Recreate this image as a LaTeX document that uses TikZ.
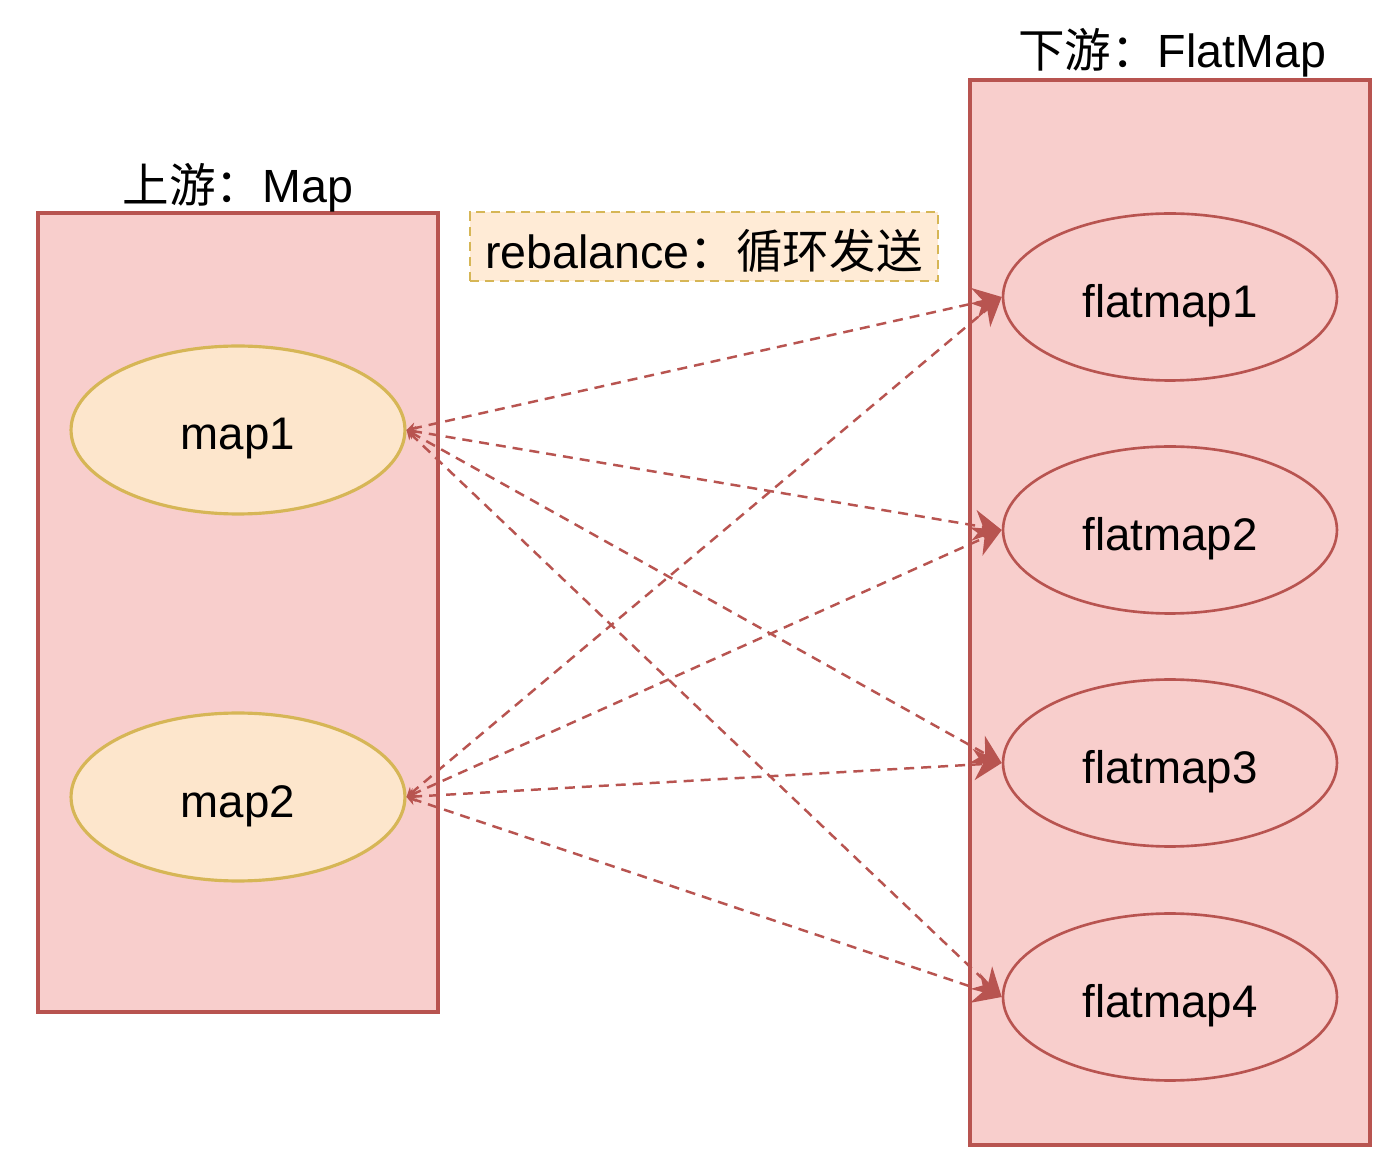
\documentclass[tikz,border=0pt]{standalone}
\usepackage{fontspec}
\setmainfont{Liberation Sans}
\newfontfamily\cjk{Noto Sans CJK SC}
\usetikzlibrary{arrows.meta,shapes.geometric}
\definecolor{redfill}{HTML}{F8CECC}
\definecolor{redline}{HTML}{B85450}
\definecolor{orfill}{HTML}{FDE6CC}
\definecolor{yelline}{HTML}{D6B656}
\definecolor{lblfill}{HTML}{FFEBD6}
\tikzset{
  group/.style={draw=redline, fill=redfill, line width=1.8pt},
  mapnode/.style={ellipse, draw=yelline, fill=orfill, line width=1.8pt, minimum width=6.68cm, minimum height=3.36cm, inner sep=0pt, font=\fontsize{26}{30}\selectfont},
  fmnode/.style={ellipse, draw=redline, fill=redfill, line width=1.5pt, minimum width=6.68cm, minimum height=3.34cm, inner sep=0pt, font=\fontsize{26}{30}\selectfont},
  title/.style={font=\fontsize{26.5}{30}\selectfont, inner sep=0pt},
  flow/.style={draw=redline, line width=1.4pt, dash pattern=on 0.2cm off 0.14cm,
    {Stealth[length=0.18cm,width=0.22cm]}-{Stealth[length=0.56cm,width=0.62cm]}}
}
\newcommand{\dropit}[1]{\raisebox{-0.18cm}[\height][\depth]{#1}}
\begin{document}
\begin{tikzpicture}[x=0.02cm,y=-0.02cm]
\useasboundingbox[fill=white] (0,0) rectangle (1400,1168);
% groups
\draw[group] (38,213) rectangle (438,1012);
\draw[group] (970,80) rectangle (1370,1145);
\node[title] (tup) at (238,188) {{\cjk 上游：}Map};
\node[title] (tdown) at (1172,53) {{\cjk 下游：}FlatMap};
% label
\node[draw=yelline, fill=lblfill, line width=1.4pt, dash pattern=on 0.18cm off 0.12cm,
  minimum width=9.36cm, minimum height=1.38cm, inner sep=0pt, font=\fontsize{26.5}{30}\selectfont]
  (lbl) at (704,246.5) {\raisebox{-0.08cm}[\height][\depth]{rebalance{\cjk ：循环发送}}};
% nodes
\node[mapnode] (m1) at (238,430) {\dropit{map1}};
\node[mapnode] (m2) at (238,797) {\dropit{map2}};
\node[fmnode] (f1) at (1170,297) {\dropit{flatmap1}};
\node[fmnode] (f2) at (1170,530) {\dropit{flatmap2}};
\node[fmnode] (f3) at (1170,763) {\dropit{flatmap3}};
\node[fmnode] (f4) at (1170,997) {\dropit{flatmap4}};
% flows
\foreach \s in {m1,m2}{
  \foreach \t in {f1,f2,f3,f4}{
    \draw[flow] (\s.east) -- (\t.west);
  }
}
\end{tikzpicture}
\end{document}
